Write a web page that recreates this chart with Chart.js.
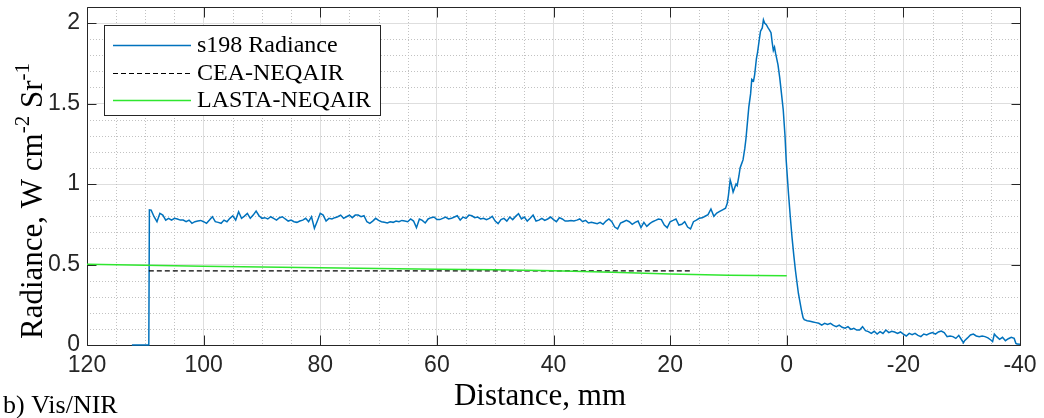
<!DOCTYPE html>
<html>
<head>
<meta charset="utf-8">
<script src="https://cdn.jsdelivr.net/npm/chart.js@4"></script>
<style>
  html, body { margin: 0; padding: 0; background: #fff; }
  canvas { display: block; }
</style>
</head>
<body>
<canvas id="radChart" width="1044" height="418"></canvas>
<script>
const s198Dist = [
  112.3, 109.4, 109.3,
  109.0, 108.5, 108.0, 107.5, 107.0, 106.5, 106.0, 105.5, 105.0, 104.5, 104.0, 103.5, 103.0, 102.5, 102.0, 101.5, 101.0, 100.5,
  100.0, 99.5, 99.0, 98.5, 98.0, 97.5, 97.0, 96.5, 96.0, 95.5, 95.0, 94.5, 94.0, 93.5, 93.0, 92.5, 92.0, 91.5, 91.0, 90.5,
  90.0, 89.5, 89.0, 88.5, 88.0, 87.5, 87.0, 86.5, 86.0, 85.5, 85.0, 84.5, 84.0, 83.5, 83.0, 82.5, 82.0, 81.5, 81.0, 80.5,
  80.0, 79.5, 79.0, 78.5, 78.0, 77.5, 77.0, 76.5, 76.0, 75.5, 75.0, 74.5, 74.0, 73.5, 73.0, 72.5, 72.0, 71.5, 71.0, 70.5,
  70.0, 69.5, 69.0, 68.5, 68.0, 67.5, 67.0, 66.5, 66.0, 65.5, 65.0, 64.5, 64.0, 63.5, 63.0, 62.5, 62.0, 61.5, 61.0, 60.5,
  60.0, 59.5, 59.0, 58.5, 58.0, 57.5, 57.0, 56.5, 56.0, 55.5, 55.0, 54.5, 54.0, 53.5, 53.0, 52.5, 52.0, 51.5, 51.0, 50.5,
  50.0, 49.5, 49.0, 48.5, 48.0, 47.5, 47.0, 46.5, 46.0, 45.5, 45.0, 44.5, 44.0, 43.5, 43.0, 42.5, 42.0, 41.5, 41.0, 40.5,
  40.0, 39.5, 39.0, 38.5, 38.0, 37.5, 37.0, 36.5, 36.0, 35.5, 35.0, 34.5, 34.0, 33.5, 33.0, 32.5, 32.0, 31.5, 31.0, 30.5,
  30.0, 29.5, 29.0, 28.5, 28.0, 27.5, 27.0, 26.5, 26.0, 25.5, 25.0, 24.5, 24.0, 23.5, 23.0, 22.5, 22.0, 21.5, 21.0, 20.5,
  20.0, 19.5, 19.0, 18.5, 18.0, 17.5, 17.0, 16.5, 16.0, 15.5, 15.0, 14.5, 14.0, 13.5, 13.0, 12.5, 12.0, 11.5, 11.0, 10.5,
  10.2, 10.0, 9.7, 9.5, 9.2, 9.0, 8.7, 8.5, 8.2, 8.0, 7.7, 7.5, 7.2, 7.0, 6.7, 6.5, 6.2, 6.0, 5.7, 5.5,
  5.2, 5.0, 4.7, 4.5, 4.2, 4.0, 3.8, 3.5, 3.2, 3.0, 2.7, 2.5, 2.3, 2.1, 1.9, 1.5, 1.2, 0.9, 0.6, 0.3,
  0.1, -0.3, -0.6, -0.9, -1.2, -1.5, -2.0, -2.5, -2.8,
  -3.0, -3.5, -4.0, -4.5, -5.0, -5.5, -6.0, -6.5, -7.0, -7.5, -8.0, -8.5, -9.0, -9.5, -10.0, -10.5, -11.0, -11.5, -12.0, -12.5,
  -13.0, -13.5, -14.0, -14.5, -15.0, -15.5, -16.0, -16.5, -17.0, -17.5, -18.0, -18.5, -19.0, -19.5, -20.0, -20.5, -21.0, -21.5, -22.0, -22.5,
  -23.0, -23.5, -24.0, -24.5, -25.0, -25.5, -26.0, -26.5, -27.0, -27.5, -28.0, -28.5, -29.0, -29.5, -30.0, -30.3, -30.5, -31.0, -31.5, -32.0,
  -32.5, -33.0, -33.5, -34.0, -34.5, -35.0, -35.3, -35.6, -36.0, -36.5, -37.0, -37.5, -38.0, -38.5, -39.0, -39.3, -39.5, -40.0
];
const s198Rad = [
  0, 0, 0.84,
  0.838, 0.797, 0.766, 0.818, 0.807, 0.776, 0.787, 0.776, 0.787, 0.783, 0.776, 0.776, 0.766, 0.776, 0.756, 0.766, 0.770, 0.774,
  0.766, 0.756, 0.776, 0.797, 0.766, 0.762, 0.756, 0.776, 0.766, 0.787, 0.803, 0.776, 0.828, 0.787, 0.801, 0.818, 0.787, 0.807, 0.832, 0.803,
  0.787, 0.791, 0.783, 0.797, 0.787, 0.776, 0.791, 0.797, 0.783, 0.770, 0.776, 0.766, 0.762, 0.770, 0.776, 0.787, 0.766, 0.797, 0.725, 0.770,
  0.818, 0.807, 0.770, 0.787, 0.783, 0.791, 0.797, 0.807, 0.787, 0.797, 0.807, 0.791, 0.807, 0.807, 0.797, 0.803, 0.766, 0.756, 0.770, 0.787,
  0.774, 0.766, 0.762, 0.758, 0.766, 0.762, 0.770, 0.766, 0.774, 0.770, 0.766, 0.783, 0.770, 0.729, 0.783, 0.774, 0.758, 0.783, 0.791, 0.795,
  0.779, 0.779, 0.787, 0.795, 0.783, 0.787, 0.795, 0.803, 0.776, 0.795, 0.787, 0.807, 0.803, 0.791, 0.795, 0.783, 0.787, 0.779, 0.787, 0.799,
  0.770, 0.754, 0.779, 0.787, 0.770, 0.795, 0.779, 0.799, 0.816, 0.783, 0.795, 0.770, 0.787, 0.807, 0.770, 0.776, 0.787, 0.774, 0.783, 0.795,
  0.779, 0.766, 0.791, 0.783, 0.770, 0.770, 0.774, 0.770, 0.776, 0.783, 0.766, 0.774, 0.758, 0.762, 0.758, 0.754, 0.762, 0.750, 0.770, 0.783,
  0.766, 0.733, 0.721, 0.758, 0.766, 0.774, 0.766, 0.750, 0.762, 0.770, 0.729, 0.762, 0.737, 0.754, 0.766, 0.774, 0.783, 0.779, 0.745, 0.729,
  0.766, 0.774, 0.783, 0.745, 0.750, 0.766, 0.733, 0.721, 0.766, 0.776, 0.787, 0.790, 0.800, 0.810, 0.845, 0.800, 0.820, 0.830, 0.840, 0.850,
  0.88, 0.93, 1.025, 1.00, 0.95, 0.97, 1.00, 0.99, 1.05, 1.10, 1.13, 1.15, 1.22, 1.28, 1.40, 1.48, 1.56, 1.65, 1.64, 1.68,
  1.78, 1.82, 1.90, 1.95, 1.97, 2.02, 2.00, 1.99, 1.97, 1.96, 1.94, 1.88, 1.83, 1.85, 1.81, 1.74, 1.66, 1.56, 1.46, 1.30,
  1.15, 0.94, 0.80, 0.67, 0.56, 0.46, 0.32, 0.22, 0.17,
  0.157, 0.151, 0.147, 0.143, 0.139, 0.135, 0.124, 0.135, 0.128, 0.135, 0.122, 0.114, 0.124, 0.110, 0.104, 0.114, 0.097, 0.104, 0.093, 0.093,
  0.114, 0.089, 0.083, 0.072, 0.085, 0.068, 0.083, 0.072, 0.093, 0.077, 0.085, 0.081, 0.072, 0.081, 0.068, 0.056, 0.072, 0.064, 0.072, 0.060,
  0.052, 0.068, 0.062, 0.072, 0.077, 0.068, 0.081, 0.087, 0.077, 0.052, 0.056, 0.052, 0.041, 0.060, 0.031, 0.014, 0.027, 0.044, 0.062, 0.068,
  0.056, 0.052, 0.056, 0.052, 0.044, 0.031, 0.021, 0.068, 0.052, 0.035, 0.048, 0.027, 0.039, 0.048, 0.041, 0.010, 0.006, 0.004
];

// CEA-NEQAIR prediction (flat)
const ceaDist = [109.4, 16.1];
const ceaRad = [0.461, 0.461];

// LASTA-NEQAIR prediction
const lastaDist = [120, 110, 100, 90, 80, 70, 60, 50, 40, 30, 20, 10, 0];
const lastaRad = [0.502, 0.496, 0.490, 0.485, 0.480, 0.475, 0.471, 0.467, 0.462, 0.452, 0.441, 0.434, 0.430];

const xTicks = [120, 100, 80, 60, 40, 20, 0, -20, -40];
const yTicks = [0, 0.5, 1, 1.5, 2];

const toPts = (xs, ys) => xs.map((v, i) => ({ x: v, y: ys[i] }));

const axisColor = '#262626';
const serif = '"Liberation Serif", "Times New Roman", serif';
const sans = '"Liberation Sans", Arial, sans-serif';

// minor grid, axes box with inward ticks, legend, titles
const matlabFrame = {
  id: 'matlabFrame',
  beforeDatasetsDraw(chart) {
    const { ctx, chartArea: a, scales: { x, y } } = chart;
    ctx.save();
    ctx.strokeStyle = '#c2c2c2';
    ctx.lineWidth = 1;
    ctx.setLineDash([1, 2]);
    ctx.beginPath();
    for (let v = -35; v < 120; v += 5) {
      if (v % 20 === 0) continue;
      const px = Math.round(x.getPixelForValue(v)) + 0.5;
      ctx.moveTo(px, a.top); ctx.lineTo(px, a.bottom);
    }
    for (let k = 1; k <= 20; k++) {
      if (k % 5 === 0) continue;
      const py = Math.round(y.getPixelForValue(k / 10)) + 0.5;
      ctx.moveTo(a.left, py); ctx.lineTo(a.right, py);
    }
    ctx.stroke();
    ctx.setLineDash([]);

    // box + inward tick marks
    ctx.strokeStyle = axisColor;
    ctx.beginPath();
    const L = Math.round(a.left) + 0.5, R = Math.round(a.right) + 0.5;
    const T = Math.round(a.top) + 0.5, B = Math.round(a.bottom) + 0.5;
    ctx.rect(L, T, R - L, B - T);
    xTicks.forEach(v => {
      const px = Math.round(x.getPixelForValue(v)) + 0.5;
      ctx.moveTo(px, B); ctx.lineTo(px, B - 10);
      ctx.moveTo(px, T); ctx.lineTo(px, T + 10);
    });
    yTicks.forEach(v => {
      const py = Math.round(y.getPixelForValue(v)) + 0.5;
      ctx.moveTo(L, py); ctx.lineTo(L + 9, py);
      ctx.moveTo(R, py); ctx.lineTo(R - 9, py);
    });
    ctx.stroke();
    ctx.restore();
  },
  afterDraw(chart) {
    const { ctx } = chart;
    ctx.save();

    // legend box
    const bx = 104.5, by = 25.5, bw = 276, bh = 90;
    ctx.fillStyle = '#fff';
    ctx.fillRect(bx, by, bw, bh);
    ctx.strokeStyle = axisColor;
    ctx.lineWidth = 1;
    ctx.strokeRect(bx, by, bw, bh);
    const rows = [45, 73, 100];
    chart.data.datasets.forEach((ds, i) => {
      const yy = rows[i] + 0.5;
      ctx.strokeStyle = ds.borderColor;
      ctx.lineWidth = ds.borderWidth;
      ctx.setLineDash(ds.borderDash || []);
      ctx.beginPath();
      ctx.moveTo(113, yy); ctx.lineTo(191, yy);
      ctx.stroke();
      ctx.setLineDash([]);
      ctx.fillStyle = '#000';
      ctx.font = '24px ' + serif;
      ctx.textBaseline = 'middle';
      ctx.textAlign = 'left';
      ctx.fillText(ds.label, 197, rows[i] + 1);
    });

    // x axis title (sits a little left of the axes centre in the original)
    ctx.font = '31px ' + serif;
    ctx.fillStyle = '#000';
    ctx.textAlign = 'center';
    ctx.textBaseline = 'middle';
    ctx.fillText('Distance, mm', 540, 397);

    // y axis title with superscripts
    ctx.translate(42, 201);
    ctx.rotate(-Math.PI / 2);
    const parts = [
      ['Radiance, W cm', false], ['-2', true], [' Sr', false], ['-1', true]
    ];
    const big = '31px ' + serif, small = '21px ' + serif;
    let total = 0;
    parts.forEach(([t, sup]) => { ctx.font = sup ? small : big; total += ctx.measureText(t).width; });
    let cx = -total / 2;
    ctx.textBaseline = 'alphabetic';
    ctx.textAlign = 'left';
    parts.forEach(([t, sup]) => {
      ctx.font = sup ? small : big;
      ctx.fillText(t, cx, sup ? -13 : 0);
      cx += ctx.measureText(t).width;
    });
    ctx.setTransform(1, 0, 0, 1, 0, 0);

    // panel label
    ctx.font = '26px ' + serif;
    ctx.textAlign = 'left';
    ctx.textBaseline = 'alphabetic';
    ctx.fillText('b) Vis/NIR', 3, 413);
    ctx.restore();
  }
};

new Chart(document.getElementById('radChart'), {
  type: 'scatter',
  data: {
    datasets: [
      {
        label: 's198 Radiance',
        data: toPts(s198Dist, s198Rad),
        borderColor: '#0072BD',
        borderWidth: 1.5,
        showLine: true,
        pointRadius: 0,
        order: 2,
        clip: false
      },
      {
        label: 'CEA-NEQAIR',
        data: toPts(ceaDist, ceaRad),
        borderColor: '#000000',
        borderWidth: 1.2,
        borderDash: [5, 3],
        showLine: true,
        pointRadius: 0,
        order: 1
      },
      {
        label: 'LASTA-NEQAIR',
        data: toPts(lastaDist, lastaRad),
        borderColor: '#2fe62f',
        borderWidth: 1.5,
        showLine: true,
        pointRadius: 0,
        order: 0
      }
    ]
  },
  options: {
    responsive: false,
    animation: false,
    devicePixelRatio: 1,
    layout: { padding: { top: 7, right: 24, bottom: 0, left: 0 } },
    plugins: {
      legend: { display: false },
      tooltip: { enabled: false }
    },
    scales: {
      x: {
        type: 'linear',
        min: -40,
        max: 120,
        reverse: true,
        afterBuildTicks: s => { s.ticks = xTicks.map(v => ({ value: v })); },
        afterFit: s => { s.height = 73; s.paddingLeft = 0; s.paddingRight = 0; },
        ticks: {
          color: axisColor,
          font: { family: sans, size: 23 },
          padding: 7,
          maxRotation: 0,
          autoSkip: false,
          callback: v => String(v)
        },
        grid: { color: '#dedede', lineWidth: 1, drawTicks: false },
        border: { display: false },
        title: { display: false }
      },
      y: {
        min: 0,
        max: 2.1,
        afterBuildTicks: s => { s.ticks = yTicks.map(v => ({ value: v })); },
        afterFit: s => { s.width = 87; s.paddingTop = 0; s.paddingBottom = 0; },
        ticks: {
          color: axisColor,
          font: { family: sans, size: 23 },
          padding: 7,
          callback: v => String(v)
        },
        grid: { color: '#dedede', lineWidth: 1, drawTicks: false },
        border: { display: false },
        title: { display: false }
      }
    }
  },
  plugins: [matlabFrame]
});
</script>
</body>
</html>
